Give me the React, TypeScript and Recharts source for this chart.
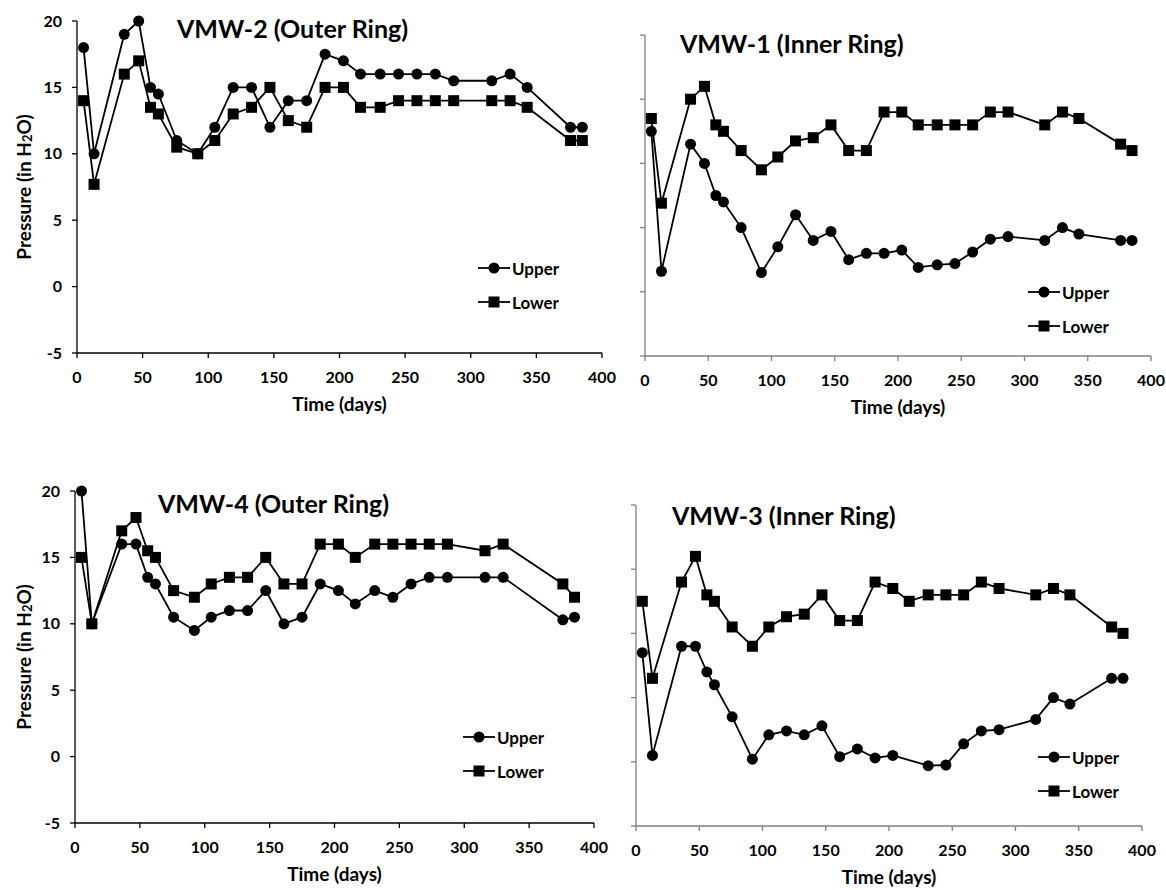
import React from 'react';
import { LineChart, Line, XAxis, YAxis, Legend } from 'recharts';

const FONT = 'Lato, "Open Sans", sans-serif';

// sampling days (shared by all four wells)
const days = [5, 13, 36, 47, 56, 62, 76, 92, 105, 119, 133, 147, 161, 175, 189, 203, 216, 231, 245, 259, 273, 287, 316, 330, 343, 376, 385];

// VMW-2 (outer ring)
const vmw2Upper = [18, 10, 19, 20, 15, 14.5, 11, 10, 12, 15, 15, 12, 14, 14, 17.5, 17, 16, 16, 16, 16, 16, 15.5, 15.5, 16, 15, 12, 12];
const vmw2Lower = [14, 7.7, 16, 17, 13.5, 13, 10.5, 10, 11, 13, 13.5, 15, 12.5, 12, 15, 15, 13.5, 13.5, 14, 14, 14, 14, 14, 14, 13.5, 11, 11];

// VMW-1 (inner ring)
const vmw1Upper = [12.5, 1.6, 11.5, 10, 7.5, 7, 5, 1.5, 3.5, 6, 4, 4.7, 2.5, 3, 3, 3.25, 1.9, 2.1, 2.2, 3.1, 4.1, 4.3, 4, 5, 4.5, 4, 4];
const vmw1Lower = [13.5, 6.9, 15, 16, 13, 12.5, 11, 9.5, 10.5, 11.75, 12, 13, 11, 11, 14, 14, 13, 13, 13, 13, 14, 14, 13, 14, 13.5, 11.5, 11];

// VMW-4 (outer ring) - no reading on day 343
const vmw4Upper = [20, 10, 16, 16, 13.5, 13, 10.5, 9.5, 10.5, 11, 11, 12.5, 10, 10.5, 13, 12.5, 11.5, 12.5, 12, 13, 13.5, 13.5, 13.5, 13.5, null, 10.3, 10.5];
const vmw4Lower = [15, 10, 17, 18, 15.5, 15, 12.5, 12, 13, 13.5, 13.5, 15, 13, 13, 16, 16, 15, 16, 16, 16, 16, 16, 15.5, 16, null, 13, 12];

// VMW-3 (inner ring) - upper port missing on day 216
const vmw3Upper = [8.5, 0.5, 9, 9, 7, 6, 3.5, 0.2, 2.1, 2.4, 2.1, 2.8, 0.4, 1, 0.3, 0.5, null, -0.3, -0.25, 1.4, 2.4, 2.5, 3.3, 5, 4.5, 6.5, 6.5];
const vmw3Lower = [12.5, 6.5, 14, 16, 13, 12.5, 10.5, 9, 10.5, 11.3, 11.5, 13, 11, 11, 14, 13.5, 12.5, 13, 13, 13, 14, 13.5, 13, 13.5, 13, 10.5, 10];

const xTicks = [0, 50, 100, 150, 200, 250, 300, 350, 400];
const yTicks = [-5, 0, 5, 10, 15, 20];
const seriesOrder = ['upper', 'lower'];

const rows = (upper: (number | null)[], lower: (number | null)[]) =>
  days.map((t, i) => ({ t, upper: upper[i], lower: lower[i] }));

function SquareDot(props: any) {
  const { cx, cy, index } = props;
  if (cx == null || cy == null) return <g key={`sq-${index}`} />;
  return <rect key={`sq-${index}`} x={cx - 5.5} y={cy - 5.5} width={11} height={11} fill="#000" />;
}

function YTitle({ viewBox }: any) {
  const cx = viewBox.x + 23;
  const cy = viewBox.y + viewBox.height / 2;
  return (
    <text x={cx} y={cy} transform={`rotate(-90, ${cx}, ${cy})`} textAnchor="middle" dominantBaseline="central"
      fill="#000" fontSize={19} fontWeight={700}>
      Pressure (in H<tspan dy={4} fontSize={13}>2</tspan><tspan dy={-4}>O)</tspan>
    </text>
  );
}

function XTitle({ viewBox }: any) {
  return (
    <text x={viewBox.x + viewBox.width / 2} y={viewBox.y + 58} textAnchor="middle" fill="#000" fontSize={19} fontWeight={700}>
      Time (days)
    </text>
  );
}

function LegendBox({ payload }: any) {
  // keep Upper above Lower, as in the original figure
  const items = [...(payload || [])].sort(
    (a: any, b: any) => seriesOrder.indexOf(a.dataKey) - seriesOrder.indexOf(b.dataKey)
  );
  return (
    <div>
      {items.map((p: any) => (
        <div key={p.value} style={{ display: 'flex', alignItems: 'center', height: 34 }}>
          <svg width={32} height={14}>
            <line x1={0} y1={7} x2={32} y2={7} stroke="#000" strokeWidth={1.8} />
            {p.dataKey === 'lower'
              ? <rect x={10.5} y={1.5} width={11} height={11} fill="#000" />
              : <circle cx={16} cy={7} r={5.5} fill="#000" />}
          </svg>
          <span style={{ fontSize: 17, fontWeight: 700, marginLeft: 2, color: '#000' }}>{p.value}</span>
        </div>
      ))}
    </div>
  );
}

interface PanelProps {
  title: string;
  data: { t: number; upper: number | null; lower: number | null }[];
  x: number; y: number; w: number; h: number;
  plotTop: number; plotRight: number; yWidth: number; xHeight: number;
  axisColor: string; labelled: boolean;
  legendAt: [number, number]; titleAt: [number, number];
}

function Panel(p: PanelProps) {
  const tickStyle = { fill: '#000', fontSize: 16, fontWeight: 700 };
  return (
    <div style={{ position: 'absolute', left: p.x, top: p.y, width: p.w, height: p.h }}>
      <LineChart width={p.w} height={p.h} data={p.data} margin={{ top: p.plotTop, right: p.plotRight, left: 0, bottom: 0 }}>
        <XAxis type="number" dataKey="t" domain={[0, 400]} ticks={xTicks} height={p.xHeight}
          tickSize={5} tickMargin={14} tick={tickStyle}
          axisLine={{ stroke: p.axisColor, strokeWidth: 1.3 }} tickLine={{ stroke: p.axisColor, strokeWidth: 1.3 }}
          label={<XTitle />} />
        <YAxis type="number" domain={[-5, 20]} ticks={yTicks} width={p.yWidth}
          tickSize={5} tickMargin={10} tick={tickStyle}
          tickFormatter={p.labelled ? undefined : () => ''}
          axisLine={{ stroke: p.axisColor, strokeWidth: 1.3 }} tickLine={{ stroke: p.axisColor, strokeWidth: 1.3 }}
          label={p.labelled ? <YTitle /> : undefined} />
        <Legend layout="vertical" align="center" verticalAlign="middle" content={<LegendBox />}
          wrapperStyle={{ left: p.legendAt[0], top: p.legendAt[1], width: 'auto' }} />
        <Line dataKey="upper" name="Upper" stroke="#000" strokeWidth={1.8} connectNulls isAnimationActive={false}
          dot={{ r: 5.5, fill: '#000', stroke: '#000', strokeWidth: 0 }} activeDot={false} />
        <Line dataKey="lower" name="Lower" stroke="#000" strokeWidth={1.8} connectNulls isAnimationActive={false}
          dot={<SquareDot />} activeDot={false} />
      </LineChart>
      <div style={{ position: 'absolute', left: p.titleAt[0], top: p.titleAt[1] - 15, lineHeight: '30px',
        fontSize: 25, fontWeight: 700, color: '#000', whiteSpace: 'nowrap' }}>
        {p.title}
      </div>
    </div>
  );
}

export default function App() {
  return (
    <div style={{ position: 'absolute', left: 0, top: 0, width: 1166, height: 890, background: '#fff', fontFamily: FONT }}>
      <Panel title="VMW-2 (Outer Ring)" data={rows(vmw2Upper, vmw2Lower)}
        x={0} y={0} w={620} h={425} plotTop={21} plotRight={18} yWidth={77} xHeight={72}
        axisColor="#000" labelled legendAt={[478, 251]} titleAt={[177, 28]} />
      <Panel title="VMW-1 (Inner Ring)" data={rows(vmw1Upper, vmw1Lower)}
        x={583} y={0} w={583} h={425} plotTop={35} plotRight={15} yWidth={62} xHeight={69}
        axisColor="#808080" labelled={false} legendAt={[445, 275]} titleAt={[97, 43]} />
      <Panel title="VMW-4 (Outer Ring)" data={rows(vmw4Upper, vmw4Lower)}
        x={0} y={445} w={620} h={445} plotTop={46} plotRight={26} yWidth={75} xHeight={67}
        axisColor="#000" labelled legendAt={[463, 275]} titleAt={[158, 58]} />
      <Panel title="VMW-3 (Inner Ring)" data={rows(vmw3Upper, vmw3Lower)}
        x={583} y={445} w={583} h={445} plotTop={60} plotRight={24} yWidth={53} xHeight={64}
        axisColor="#808080" labelled={false} legendAt={[455, 295]} titleAt={[89, 70]} />
    </div>
  );
}
